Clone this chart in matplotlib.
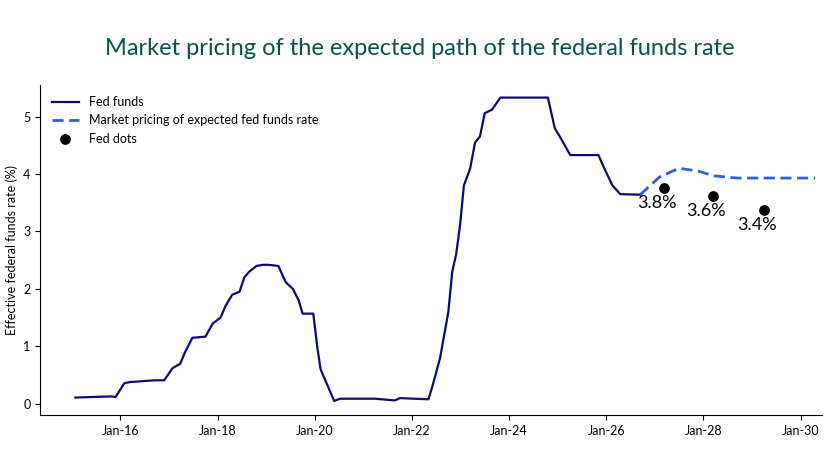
import matplotlib.pyplot as plt

# decimal years
fed_x = [2015.07, 2015.8, 2015.9, 2016.08, 2016.2, 2016.7, 2016.9, 2017.07, 2017.23, 2017.33,
         2017.48, 2017.75, 2017.9, 2018.06, 2018.16, 2018.3, 2018.45, 2018.55, 2018.65, 2018.8,
         2018.93, 2019.05, 2019.25, 2019.4, 2019.55, 2019.67, 2019.75, 2019.97, 2020.05, 2020.12,
         2020.4, 2020.52, 2021.24, 2021.65, 2021.75, 2022.34, 2022.42, 2022.58, 2022.75, 2022.83,
         2022.91, 2022.99, 2023.07, 2023.2, 2023.3, 2023.4, 2023.5, 2023.65, 2023.82, 2024.8,
         2024.94, 2025.08, 2025.26, 2025.84, 2025.96, 2026.13, 2026.29, 2026.7]
fed_y = [0.11, 0.13, 0.12, 0.36, 0.38, 0.41, 0.41, 0.62, 0.70, 0.90,
         1.15, 1.17, 1.40, 1.50, 1.70, 1.90, 1.95, 2.20, 2.30, 2.40,
         2.42, 2.42, 2.40, 2.12, 2.00, 1.80, 1.57, 1.57, 1.00, 0.60,
         0.05, 0.09, 0.09, 0.06, 0.10, 0.08, 0.30, 0.80, 1.60, 2.30,
         2.60, 3.10, 3.80, 4.10, 4.55, 4.65, 5.06, 5.12, 5.33, 5.33,
         4.80, 4.60, 4.33, 4.33, 4.10, 3.80, 3.65, 3.64]

mkt_x = [2026.7, 2027.1, 2027.5, 2027.9, 2028.2, 2028.7, 2030.3]
mkt_y = [3.64, 3.95, 4.10, 4.05, 3.97, 3.93, 3.93]

dots_x = [2027.2, 2028.2, 2029.25]
dots_y = [3.75, 3.62, 3.37]
dots_lbl = ["3.8%", "3.6%", "3.4%"]

tick_years = [2016, 2018, 2020, 2022, 2024, 2026, 2028, 2030]
tick_lbls = ["Jan-16", "Jan-18", "Jan-20", "Jan-22", "Jan-24", "Jan-26", "Jan-28", "Jan-30"]

plt.rcParams['font.family'] = ['Lato', 'DejaVu Sans']
fig = plt.figure(figsize=(8.4, 4.72), dpi=100)
ax = fig.add_axes([0.048, 0.12, 0.931, 0.70])

ax.plot(fed_x, fed_y, color='#0a0a78', lw=1.6, label='Fed funds')
ax.plot(mkt_x, mkt_y, color='#2f5fe0', lw=2, ls=(0, (4, 2)),
        label='Market pricing of expected fed funds rate')
ax.scatter(dots_x, dots_y, color='black', s=45, zorder=3, label='Fed dots')
for x, y, t in zip(dots_x, dots_y, dots_lbl):
    ax.text(x - 0.15, y - 0.12, t, fontsize=13, ha='center', va='top')

ax.set_xticks(tick_years)
ax.set_xticklabels(tick_lbls, fontsize=9)
ax.set_yticks(range(6))
ax.tick_params(labelsize=9)
ax.set_xlim(2014.35, 2030.45)
ax.set_ylim(-0.2, 5.55)
ax.set_ylabel('Effective federal funds rate (%)', fontsize=9)
ax.spines['top'].set_visible(False)
ax.spines['right'].set_visible(False)
ax.legend(loc='upper left', frameon=False, fontsize=9, handlelength=2.2)

fig.suptitle('Market pricing of the expected path of the federal funds rate',
             color='#0b524c', fontsize=17, y=0.92)
fig.savefig('out.png', dpi=100)
